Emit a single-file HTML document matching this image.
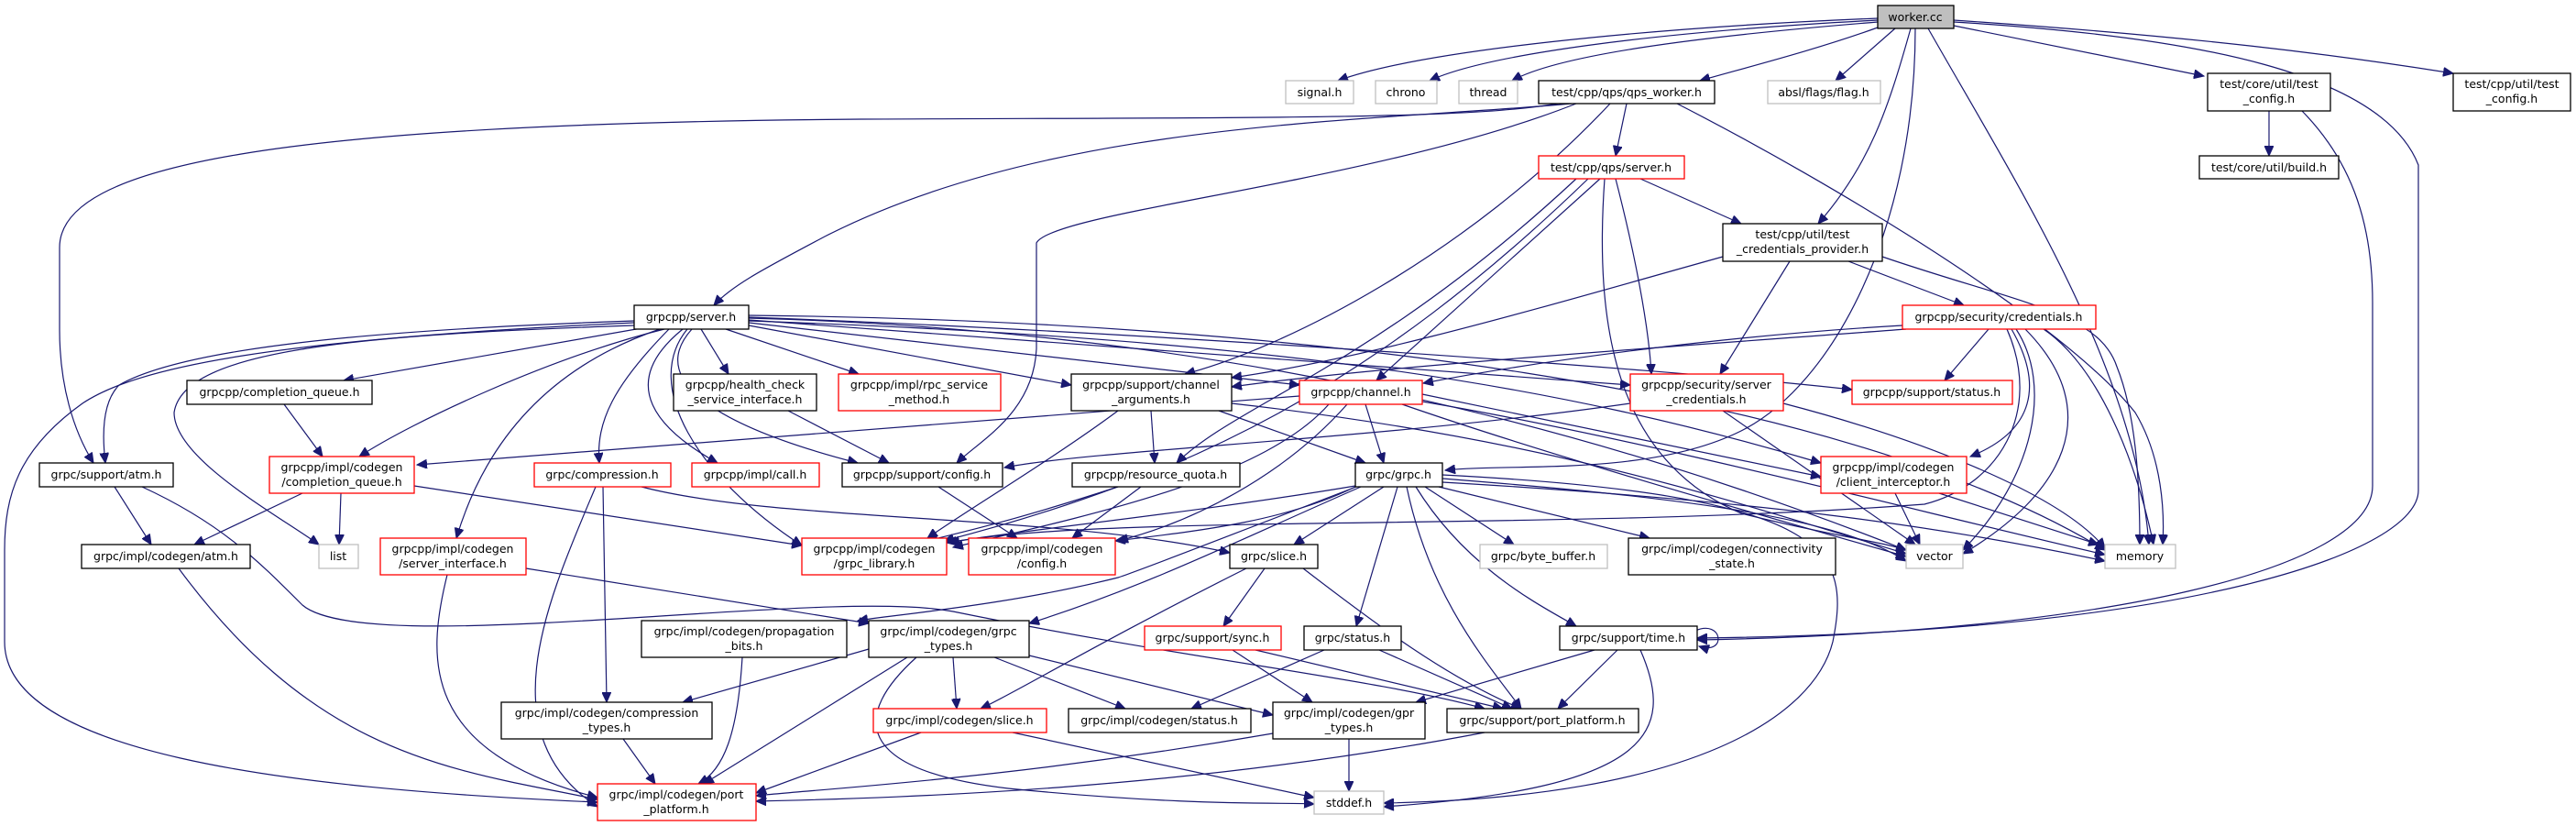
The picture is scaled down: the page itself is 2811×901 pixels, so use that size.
<!DOCTYPE html>
<html><head><meta charset="utf-8">
<style>
html,body{margin:0;padding:0;background:#fff;}
svg{display:block;}
text{font-family:"DejaVu Sans","Liberation Sans",sans-serif;font-size:12.5px;fill:#000;text-anchor:middle;}
.e{fill:none;stroke:#191970;stroke-width:1.2;marker-end:url(#a);}
.b{fill:#fff;stroke:#000;stroke-width:1.3;}
.r{fill:#fff;stroke:#ff0000;stroke-width:1.3;}
.g{fill:#fff;stroke:#bfbfbf;stroke-width:1.3;}
</style></head><body>
<svg width="2811" height="901" viewBox="0 0 2811 901" xmlns="http://www.w3.org/2000/svg">
<defs><marker id="a" markerUnits="userSpaceOnUse" markerWidth="12" markerHeight="10" refX="11" refY="5" orient="auto"><path d="M0,0 L11,5 L0,10 z" fill="#191970" stroke="#191970"/></marker></defs>
<g>
<path class="e" d="M2049,20 C1800,30 1550,55 1460,88"/>
<path class="e" d="M2049,22 C1800,35 1620,60 1560,88"/>
<path class="e" d="M2049,24 C1850,40 1700,60 1650,88"/>
<path class="e" d="M2049,30 C1980,55 1900,75 1855,88"/>
<path class="e" d="M2068,31 L2003,88"/>
<path class="e" d="M2085,31 C2060,120 2040,180 1984,244"/>
<path class="e" d="M2090,31 C2090,250 2000,420 1900,470 S1650,505 1577,513"/>
<path class="e" d="M2104,31 C2200,200 2330,400 2345,594"/>
<path class="e" d="M2132,28 L2405,83"/>
<path class="e" d="M2132,22 C2400,40 2550,60 2677,80"/>
<path class="e" d="M2132,24 C2400,40 2600,80 2639,180 L2639,535 C2639,600 2400,690 1852,696"/>
<path class="e" d="M2476,121 L2476,170"/>
<path class="e" d="M2512,121 C2570,180 2589,250 2589,330 L2589,530 C2589,620 2300,690 1852,698"/>
<path class="e" d="M1715,113 C1500,133 1150,130 900,258 C840,290 800,310 779,333"/>
<path class="e" d="M1700,113 C1600,130 1400,128 940,130 C300,135 65,180 65,270 L65,360 C65,420 80,470 102,505"/>
<path class="e" d="M1720,113 C1500,200 1150,230 1131,265 L1131,380 C1128,450 1070,480 1044,505"/>
<path class="e" d="M1775,113 L1763,170"/>
<path class="e" d="M1757,113 C1600,280 1400,380 1293,408"/>
<path class="e" d="M1830,113 C2000,200 2250,350 2330,450 C2360,500 2362,560 2360,594"/>
<path class="e" d="M1746,195 L1502,415"/>
<path class="e" d="M1733,195 C1500,420 1300,520 1030,590"/>
<path class="e" d="M1751,195 C1740,350 1760,500 1900,560 C2000,585 2050,590 2080,600"/>
<path class="e" d="M1763,195 C1790,300 1800,370 1802,408"/>
<path class="e" d="M1790,195 L1900,244"/>
<path class="e" d="M1720,195 C1500,400 1350,440 1284,505"/>
<path class="e" d="M1880,280 C1700,330 1500,390 1344,412"/>
<path class="e" d="M1953,285 L1877,408"/>
<path class="e" d="M2017,285 L2143,333"/>
<path class="e" d="M2054,280 C2200,330 2290,340 2310,400 C2330,450 2335,520 2335,594"/>
<path class="e" d="M2076,355 C1900,365 1700,390 1553,418"/>
<path class="e" d="M2080,359 C1800,380 1500,400 1344,422"/>
<path class="e" d="M2170,359 L2122,415"/>
<path class="e" d="M2195,359 C2230,420 2220,470 2150,498"/>
<path class="e" d="M2200,359 C2240,420 2220,520 2142,600"/>
<path class="e" d="M2230,359 C2290,400 2330,500 2350,594"/>
<path class="e" d="M2190,359 C2230,450 2180,530 2100,550 C1700,580 1200,560 1036,592"/>
<path class="e" d="M2210,359 C2300,450 2250,540 2142,604"/>
<path class="e" d="M1779,440 C1500,480 1200,490 1096,510"/>
<path class="e" d="M1880,448 L2090,594"/>
<path class="e" d="M1946,440 C2100,480 2250,540 2297,598"/>
<path class="e" d="M692,350 C400,360 200,380 130,420 C110,440 112,480 115,505"/>
<path class="e" d="M692,352 C300,370 150,400 90,440 C20,490 5,540 5,600 L5,700 C5,820 300,860 652,875"/>
<path class="e" d="M692,355 C400,365 200,380 190,450 C190,500 300,560 348,594"/>
<path class="e" d="M700,358 L375,415"/>
<path class="e" d="M725,359 C600,390 450,460 392,498"/>
<path class="e" d="M720,359 C600,400 530,480 498,587"/>
<path class="e" d="M730,359 C670,420 650,460 654,505"/>
<path class="e" d="M745,359 C670,420 720,470 783,505"/>
<path class="e" d="M750,359 C700,420 760,520 875,595"/>
<path class="e" d="M755,359 C700,420 800,470 936,505"/>
<path class="e" d="M765,359 L795,408"/>
<path class="e" d="M792,359 L937,408"/>
<path class="e" d="M817,355 L1169,420"/>
<path class="e" d="M817,352 L1418,420"/>
<path class="e" d="M817,349 L1779,420"/>
<path class="e" d="M817,346 C1200,360 1800,400 2021,425"/>
<path class="e" d="M817,350 C1400,370 1700,420 1987,505"/>
<path class="e" d="M817,347 C1300,360 1700,450 2080,600"/>
<path class="e" d="M817,344 C1400,350 2000,420 2297,600"/>
<path class="e" d="M310,441 L352,498"/>
<path class="e" d="M860,448 L970,505"/>
<path class="e" d="M1256,448 L1260,505"/>
<path class="e" d="M1330,448 L1490,505"/>
<path class="e" d="M1220,448 C1150,500 1050,560 1012,587"/>
<path class="e" d="M1344,440 C1700,480 1900,550 2080,604"/>
<path class="e" d="M1418,432 L455,507"/>
<path class="e" d="M1490,441 L1510,505"/>
<path class="e" d="M1450,441 C1380,520 1200,560 1040,597"/>
<path class="e" d="M1470,441 C1400,520 1300,570 1220,590"/>
<path class="e" d="M1552,430 L1987,520"/>
<path class="e" d="M1552,438 C1800,480 2100,560 2297,605"/>
<path class="e" d="M1530,441 C1700,500 1950,570 2080,607"/>
<path class="e" d="M650,531 C600,650 530,800 652,880"/>
<path class="e" d="M658,531 L662,766"/>
<path class="e" d="M700,531 C850,570 1150,560 1342,603"/>
<path class="e" d="M330,538 L212,594"/>
<path class="e" d="M372,538 L370,594"/>
<path class="e" d="M452,530 L875,595"/>
<path class="e" d="M488,627 C465,720 460,820 652,870"/>
<path class="e" d="M574,620 L948,680"/>
<path class="e" d="M125,531 L165,594"/>
<path class="e" d="M155,531 C240,570 280,610 330,660 C400,720 900,640 1040,667 C1300,720 1500,740 1620,773"/>
<path class="e" d="M195,620 C350,830 500,840 652,872"/>
<path class="e" d="M810,717 C805,800 790,840 762,855"/>
<path class="e" d="M680,806 L715,855"/>
<path class="e" d="M955,706 L745,766"/>
<path class="e" d="M990,717 L768,855"/>
<path class="e" d="M1040,717 L1044,773"/>
<path class="e" d="M1085,717 L1228,773"/>
<path class="e" d="M1123,715 L1389,780"/>
<path class="e" d="M1000,717 C930,780 930,840 1100,860 C1300,880 1400,875 1434,877"/>
<path class="e" d="M1479,530 C1300,560 1100,580 1033,592"/>
<path class="e" d="M1479,531 C1400,570 1300,580 1217,590"/>
<path class="e" d="M1510,531 L1412,594"/>
<path class="e" d="M1485,531 C1350,590 1250,640 1123,680"/>
<path class="e" d="M1480,531 C1300,600 1250,620 1220,630 C1100,660 980,670 936,677"/>
<path class="e" d="M1525,531 L1480,683"/>
<path class="e" d="M1535,531 C1560,650 1620,720 1660,773"/>
<path class="e" d="M1545,531 C1600,620 1680,660 1720,683"/>
<path class="e" d="M1555,531 L1652,594"/>
<path class="e" d="M1570,531 L1800,587"/>
<path class="e" d="M1574,522 C1800,540 2000,560 2080,612"/>
<path class="e" d="M1574,526 C1900,545 2100,570 2297,612"/>
<path class="e" d="M1574,518 C2000,540 2020,600 2000,700 C1980,780 1850,870 1510,876"/>
<path class="e" d="M1380,620 L1335,683"/>
<path class="e" d="M1360,620 C1200,700 1100,760 1070,773"/>
<path class="e" d="M1422,620 C1500,680 1580,740 1660,773"/>
<path class="e" d="M1345,709 L1432,766"/>
<path class="e" d="M1370,709 L1640,773"/>
<path class="e" d="M1445,709 L1300,773"/>
<path class="e" d="M1505,709 L1650,773"/>
<path class="e" d="M1740,709 L1545,766"/>
<path class="e" d="M1765,709 L1700,773"/>
<path class="e" d="M1790,709 C1830,800 1800,860 1510,880"/>
<path class="e" d="M1850,688 C1880,675 1885,715 1854,705"/>
<path class="e" d="M1005,799 L825,865"/>
<path class="e" d="M1105,799 L1434,870"/>
<path class="e" d="M1389,800 C1100,850 900,860 825,868"/>
<path class="e" d="M1472,806 L1472,863"/>
<path class="e" d="M1620,799 C1300,860 1000,870 825,874"/>
<path class="e" d="M2068,538 L2095,594"/>
<path class="e" d="M2116,538 L2290,594"/>
<path class="e" d="M1220,531 C1100,570 1050,580 1012,590"/>
<path class="e" d="M1245,531 L1170,587"/>
<path class="e" d="M1024,531 L1110,587"/>
</g>
<g>
<rect x="2049" y="6" width="83" height="25" fill="#bfbfbf" stroke="#000" stroke-width="1.3"/><text x="2090" y="23">worker.cc</text>
<rect class="g" x="1403" y="88" width="74" height="25"/><text x="1440" y="105">signal.h</text>
<rect class="g" x="1501" y="88" width="67" height="25"/><text x="1534" y="105">chrono</text>
<rect class="g" x="1592" y="88" width="64" height="25"/><text x="1624" y="105">thread</text>
<rect class="b" x="1679" y="88" width="192" height="25"/><text x="1775" y="105">test/cpp/qps/qps_worker.h</text>
<rect class="g" x="1929" y="88" width="123" height="25"/><text x="1990" y="105">absl/flags/flag.h</text>
<rect class="b" x="2409" y="80" width="134" height="41"/><text x="2476" y="96">test/core/util/test</text><text x="2476" y="112">_config.h</text>
<rect class="b" x="2677" y="80" width="128" height="41"/><text x="2741" y="96">test/cpp/util/test</text><text x="2741" y="112">_config.h</text>
<rect class="b" x="2400" y="170" width="152" height="25"/><text x="2476" y="187">test/core/util/build.h</text>
<rect class="r" x="1679" y="170" width="159" height="25"/><text x="1758" y="187">test/cpp/qps/server.h</text>
<rect class="b" x="1880" y="244" width="174" height="41"/><text x="1967" y="260">test/cpp/util/test</text><text x="1967" y="276">_credentials_provider.h</text>
<rect class="b" x="692" y="333" width="125" height="26"/><text x="754" y="350">grpcpp/server.h</text>
<rect class="r" x="2076" y="333" width="211" height="26"/><text x="2181" y="350">grpcpp/security/credentials.h</text>
<rect class="b" x="204" y="415" width="202" height="26"/><text x="305" y="432">grpcpp/completion_queue.h</text>
<rect class="b" x="735" y="408" width="156" height="40"/><text x="813" y="424">grpcpp/health_check</text><text x="813" y="440">_service_interface.h</text>
<rect class="r" x="915" y="408" width="177" height="40"/><text x="1003" y="424">grpcpp/impl/rpc_service</text><text x="1003" y="440">_method.h</text>
<rect class="b" x="1169" y="408" width="175" height="40"/><text x="1256" y="424">grpcpp/support/channel</text><text x="1256" y="440">_arguments.h</text>
<rect class="r" x="1418" y="415" width="134" height="26"/><text x="1485" y="432">grpcpp/channel.h</text>
<rect class="r" x="1779" y="408" width="167" height="40"/><text x="1862" y="424">grpcpp/security/server</text><text x="1862" y="440">_credentials.h</text>
<rect class="r" x="2021" y="415" width="175" height="26"/><text x="2108" y="432">grpcpp/support/status.h</text>
<rect class="b" x="43" y="505" width="146" height="26"/><text x="116" y="522">grpc/support/atm.h</text>
<rect class="r" x="294" y="498" width="158" height="40"/><text x="373" y="514">grpcpp/impl/codegen</text><text x="373" y="530">/completion_queue.h</text>
<rect class="r" x="583" y="505" width="149" height="26"/><text x="657" y="522">grpc/compression.h</text>
<rect class="r" x="755" y="505" width="139" height="26"/><text x="824" y="522">grpcpp/impl/call.h</text>
<rect class="b" x="919" y="505" width="175" height="26"/><text x="1006" y="522">grpcpp/support/config.h</text>
<rect class="b" x="1170" y="505" width="183" height="26"/><text x="1261" y="522">grpcpp/resource_quota.h</text>
<rect class="b" x="1479" y="505" width="95" height="26"/><text x="1526" y="522">grpc/grpc.h</text>
<rect class="r" x="1987" y="498" width="159" height="40"/><text x="2066" y="514">grpcpp/impl/codegen</text><text x="2066" y="530">/client_interceptor.h</text>
<rect class="b" x="89" y="594" width="184" height="26"/><text x="181" y="611">grpc/impl/codegen/atm.h</text>
<rect class="g" x="348" y="594" width="43" height="26"/><text x="369" y="611">list</text>
<rect class="r" x="415" y="587" width="159" height="40"/><text x="494" y="603">grpcpp/impl/codegen</text><text x="494" y="619">/server_interface.h</text>
<rect class="r" x="875" y="587" width="158" height="40"/><text x="954" y="603">grpcpp/impl/codegen</text><text x="954" y="619">/grpc_library.h</text>
<rect class="r" x="1057" y="587" width="160" height="40"/><text x="1137" y="603">grpcpp/impl/codegen</text><text x="1137" y="619">/config.h</text>
<rect class="b" x="1342" y="594" width="96" height="26"/><text x="1390" y="611">grpc/slice.h</text>
<rect class="g" x="1615" y="594" width="139" height="26"/><text x="1684" y="611">grpc/byte_buffer.h</text>
<rect class="b" x="1777" y="587" width="226" height="40"/><text x="1890" y="603">grpc/impl/codegen/connectivity</text><text x="1890" y="619">_state.h</text>
<rect class="g" x="2080" y="594" width="62" height="26"/><text x="2111" y="611">vector</text>
<rect class="g" x="2297" y="594" width="77" height="26"/><text x="2335" y="611">memory</text>
<rect class="b" x="700" y="677" width="224" height="40"/><text x="812" y="693">grpc/impl/codegen/propagation</text><text x="812" y="709">_bits.h</text>
<rect class="b" x="948" y="677" width="175" height="40"/><text x="1035" y="693">grpc/impl/codegen/grpc</text><text x="1035" y="709">_types.h</text>
<rect class="r" x="1249" y="683" width="149" height="26"/><text x="1323" y="700">grpc/support/sync.h</text>
<rect class="b" x="1423" y="683" width="106" height="26"/><text x="1476" y="700">grpc/status.h</text>
<rect class="b" x="1702" y="683" width="150" height="26"/><text x="1777" y="700">grpc/support/time.h</text>
<rect class="b" x="547" y="766" width="230" height="40"/><text x="662" y="782">grpc/impl/codegen/compression</text><text x="662" y="798">_types.h</text>
<rect class="r" x="953" y="773" width="189" height="26"/><text x="1047" y="790">grpc/impl/codegen/slice.h</text>
<rect class="b" x="1166" y="773" width="199" height="26"/><text x="1265" y="790">grpc/impl/codegen/status.h</text>
<rect class="b" x="1389" y="766" width="166" height="40"/><text x="1472" y="782">grpc/impl/codegen/gpr</text><text x="1472" y="798">_types.h</text>
<rect class="b" x="1579" y="773" width="209" height="26"/><text x="1683" y="790">grpc/support/port_platform.h</text>
<rect class="r" x="652" y="855" width="173" height="40"/><text x="738" y="871">grpc/impl/codegen/port</text><text x="738" y="887">_platform.h</text>
<rect class="g" x="1434" y="863" width="76" height="25"/><text x="1472" y="880">stddef.h</text>
</g>
</svg>
</body></html>
